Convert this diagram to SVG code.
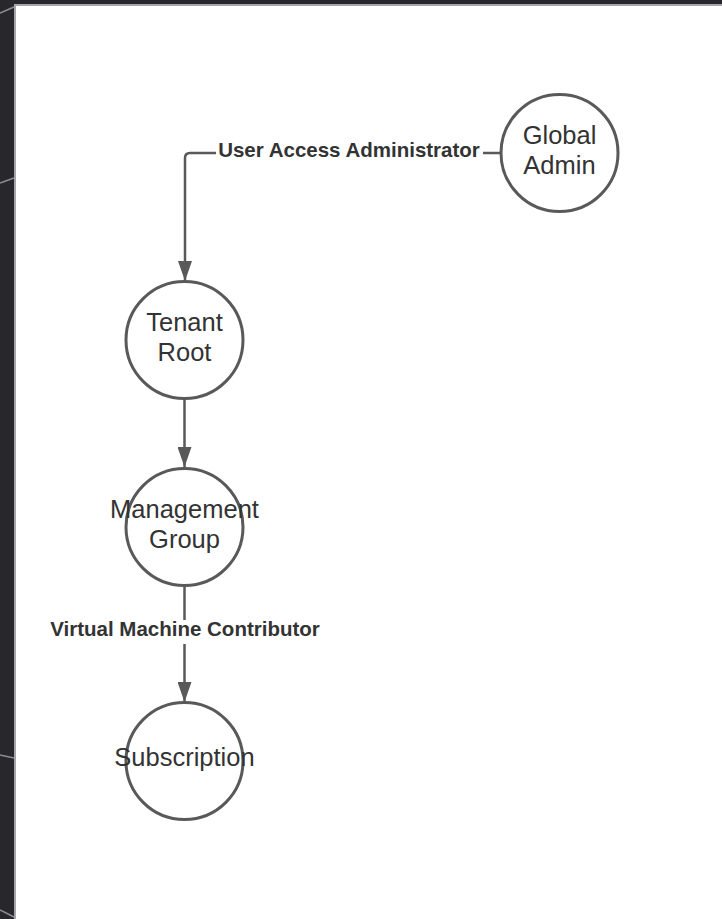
<svg xmlns="http://www.w3.org/2000/svg" width="722" height="919" viewBox="0 0 722 919">
  <defs>
    <style>
      .node { fill: #ffffff; stroke: #595959; stroke-width: 3; }
      .ntext { font-family: "Liberation Sans", Arial, sans-serif; font-size: 25.5px; fill: #333333; text-anchor: middle; }
      .edge { fill: none; stroke: #595959; stroke-width: 2.5; }
      .ltext { font-family: "Liberation Sans", Arial, sans-serif; font-size: 20.5px; font-weight: bold; fill: #333333; text-anchor: middle; }
      .frame { stroke: #8e8d96; stroke-width: 1.5; fill: none; }
    </style>
    <marker id="arrow" viewBox="0 0 20 14" refX="20" refY="7" markerWidth="20" markerHeight="14" markerUnits="userSpaceOnUse" orient="auto">
      <path d="M0,0 L20,7 L0,14 Z" fill="#595959"/>
    </marker>
  </defs>

  <g id="frame">
    <rect x="0" y="0" width="722" height="919" fill="#28272c"/>
    <rect x="14" y="4" width="708" height="915" fill="#a6a5ae"/>
    <rect x="16" y="6" width="706" height="913" fill="#ffffff"/>
    <line class="frame" x1="0" y1="13" x2="14" y2="7"/>
    <line class="frame" x1="0" y1="183" x2="14" y2="178"/>
    <line class="frame" x1="0" y1="755" x2="14" y2="758"/>
    <line class="frame" x1="0" y1="910" x2="14" y2="917"/>
  </g>

  <g id="connectors">
    <path class="edge" d="M501,153 L190,153 Q185,153 185,158 L185,281" marker-end="url(#arrow)"/>
    <path class="edge" d="M184.5,399 L184.5,467" marker-end="url(#arrow)"/>
    <path class="edge" d="M184.5,586 L184.5,702" marker-end="url(#arrow)"/>
    <g id="label-uaa">
      <rect x="216" y="140" width="267" height="24" fill="#ffffff"/>
      <text class="ltext" x="349" y="157">User Access Administrator</text>
    </g>
    <g id="label-vmc">
      <rect x="47" y="620" width="276" height="24" fill="#ffffff"/>
      <text class="ltext" x="185" y="636">Virtual Machine Contributor</text>
    </g>
  </g>

  <g id="global-admin">
    <circle class="node" cx="559.5" cy="153" r="58.5"/>
    <text class="ntext" x="559.5" y="144">Global</text>
    <text class="ntext" x="559.5" y="174">Admin</text>
  </g>

  <g id="tenant-root">
    <circle class="node" cx="184.5" cy="340" r="58.5"/>
    <text class="ntext" x="184.5" y="331">Tenant</text>
    <text class="ntext" x="184.5" y="361">Root</text>
  </g>

  <g id="management-group">
    <circle class="node" cx="184.5" cy="527" r="58.5" fill="none" style="fill:none"/>
    <text class="ntext" x="184.5" y="518">Management</text>
    <text class="ntext" x="184.5" y="548">Group</text>
  </g>

  <g id="subscription">
    <circle class="node" cx="184.5" cy="761" r="58.5" style="fill:none"/>
    <text class="ntext" x="184.5" y="766">Subscription</text>
  </g>
</svg>
